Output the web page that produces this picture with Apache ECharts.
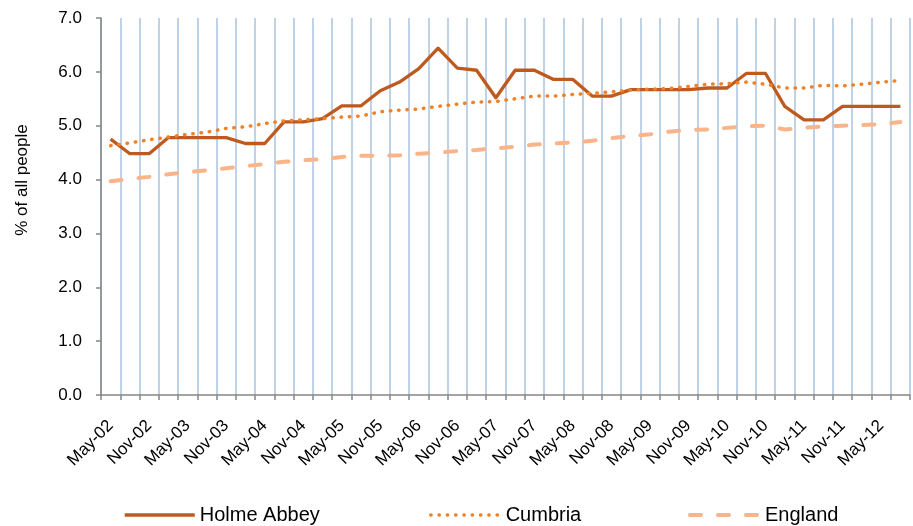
<!DOCTYPE html>
<html>
<head>
<meta charset="utf-8">
<title>Holme Abbey</title>
<script src="https://cdn.jsdelivr.net/npm/echarts@6/dist/echarts.min.js"></script>
<style>
  html, body { margin: 0; padding: 0; background: #fff; }
  #chart { width: 913px; height: 526px; }
</style>
</head>
<body>
<div id="chart"></div>
<script>
// quarterly points, labels shown every 6 months
const quarters = [
  'May-02', 'Aug-02', 'Nov-02', 'Feb-03', 'May-03', 'Aug-03', 'Nov-03',
  'Feb-04', 'May-04', 'Aug-04', 'Nov-04', 'Feb-05', 'May-05', 'Aug-05',
  'Nov-05', 'Feb-06', 'May-06', 'Aug-06', 'Nov-06', 'Feb-07', 'May-07',
  'Aug-07', 'Nov-07', 'Feb-08', 'May-08', 'Aug-08', 'Nov-08', 'Feb-09',
  'May-09', 'Aug-09', 'Nov-09', 'Feb-10', 'May-10', 'Aug-10', 'Nov-10',
  'Feb-11', 'May-11', 'Aug-11', 'Nov-11', 'Feb-12', 'May-12', 'Aug-12'
]

const holmeAbbey = [
  4.75, 4.48, 4.48, 4.78, 4.78, 4.78, 4.78, 4.67, 4.67, 5.07, 5.07,
  5.13, 5.37, 5.37, 5.65, 5.81, 6.06, 6.44, 6.07, 6.03, 5.52, 6.03,
  6.03, 5.86, 5.86, 5.55, 5.55, 5.67, 5.67, 5.67, 5.67, 5.70, 5.70,
  5.97, 5.97, 5.36, 5.11, 5.11, 5.36, 5.36, 5.36, 5.36
]

const cumbria = [
  4.63, 4.68, 4.74, 4.79, 4.84, 4.88, 4.95, 4.98, 5.04, 5.09, 5.11,
  5.13, 5.16, 5.18, 5.26, 5.29, 5.31, 5.36, 5.40, 5.44, 5.45, 5.50,
  5.55, 5.55, 5.58, 5.60, 5.63, 5.66, 5.68, 5.69, 5.73, 5.77, 5.78,
  5.81, 5.77, 5.70, 5.70, 5.75, 5.74, 5.77, 5.81, 5.84
]

const england = [
  3.97, 4.01, 4.05, 4.10, 4.14, 4.17, 4.21, 4.25, 4.29, 4.33, 4.36,
  4.38, 4.42, 4.44, 4.44, 4.45, 4.48, 4.50, 4.53, 4.55, 4.58, 4.61,
  4.65, 4.67, 4.69, 4.72, 4.77, 4.81, 4.84, 4.89, 4.92, 4.93, 4.96,
  4.99, 5.00, 4.93, 4.96, 4.99, 5.00, 5.01, 5.03, 5.07
]

const font = '"Liberation Sans", Arial, sans-serif'

const chart = echarts.init(document.getElementById('chart'))

// one legend per entry so each sits where the original puts it
const legendItem = (name, left, lineWidth) => ({
  data: [name],
  left: left,
  top: 500,
  itemWidth: 70,
  itemHeight: 14,
  itemGap: 0,
  selectedMode: false,
  itemStyle: { opacity: 0 },
  lineStyle: { width: lineWidth },
  textStyle: { fontFamily: font, fontSize: 20, color: '#000' }
})

chart.setOption({
  animation: false,
  grid: {
    left: 101,
    right: 3,
    top: 18,
    bottom: 131
  },
  legend: [
    legendItem('Holme Abbey', 118, 3.5),
    legendItem('Cumbria', 424, 3.3),
    legendItem('England', 683, 4)
  ],
  graphic: [
    {
      type: 'text',
      x: 22,
      y: 180,
      rotation: Math.PI / 2,
      style: {
        text: '% of all people',
        fontFamily: font,
        fontSize: 17,
        fill: '#000',
        align: 'center',
        verticalAlign: 'middle'
      }
    }
  ],
  xAxis: {
    type: 'category',
    data: quarters,
    boundaryGap: true,
    axisLine: { lineStyle: { color: '#868686', width: 1.5 } },
    axisTick: { show: true, interval: 0, length: 5, lineStyle: { color: '#868686', width: 1.5 } },
    splitLine: { show: true, interval: 0, lineStyle: { color: '#bfd2e8', width: 2 } },
    axisLabel: {
      interval: 1,
      rotate: 45,
      margin: 28,
      fontFamily: font,
      fontSize: 17,
      color: '#000'
    }
  },
  yAxis: {
    type: 'value',
    min: 0,
    max: 7,
    interval: 1,
    axisLine: { show: true, lineStyle: { color: '#868686', width: 1.5 } },
    axisTick: { show: true, length: 5, lineStyle: { color: '#868686', width: 1.5 } },
    splitLine: { show: false },
    axisLabel: {
      margin: 19,
      fontFamily: font,
      fontSize: 17,
      color: '#000',
      formatter: v => v.toFixed(1)
    }
  },
  series: [
    {
      name: 'Holme Abbey',
      type: 'line',
      data: holmeAbbey,
      symbol: 'none',
      color: '#be5a1e',
      lineStyle: { color: '#be5a1e', width: 3.3, join: 'round' }
    },
    {
      name: 'Cumbria',
      type: 'line',
      data: cumbria,
      symbol: 'none',
      color: '#f28126',
      lineStyle: { color: '#f28126', width: 3.5, type: [0.5, 7.8], cap: 'round' }
    },
    {
      name: 'England',
      type: 'line',
      data: england,
      symbol: 'none',
      color: '#f9b48a',
      lineStyle: { color: '#f9b48a', width: 4, type: [11, 17], cap: 'round' }
    }
  ]
})
</script>
</body>
</html>
